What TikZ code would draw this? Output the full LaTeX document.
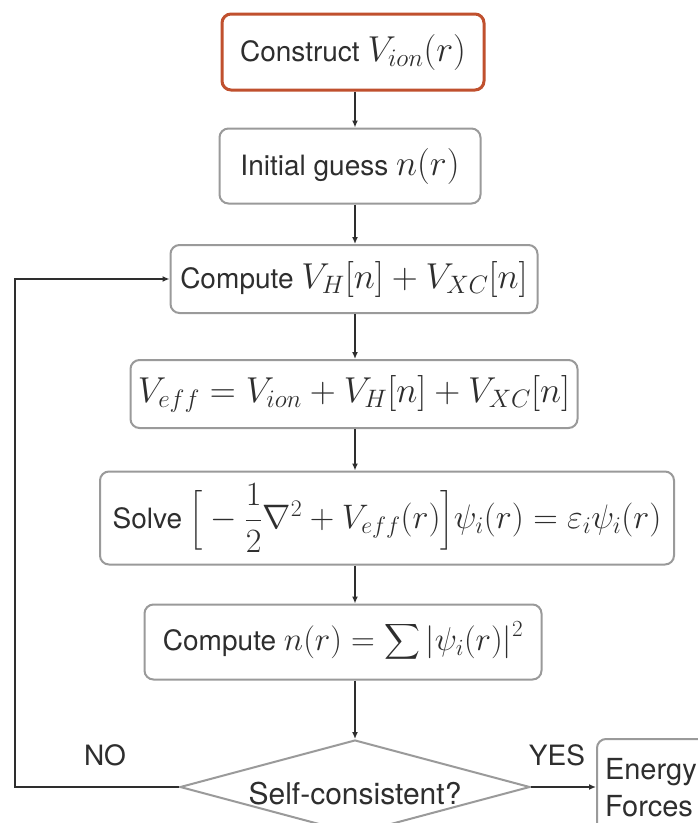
\RequirePackage{fix-cm}
\documentclass[tikz,border=0pt]{standalone}
\usepackage{amsmath}
\usepackage{fontspec}
\setmainfont{TeX Gyre Heros}
\usetikzlibrary{shapes.geometric,arrows.meta}
\definecolor{boxgray}{HTML}{9A9A9A}
\definecolor{ink}{HTML}{2E2E2E}
\definecolor{redb}{HTML}{C0502E}
\newcommand{\mth}[2][36]{{\fontsize{#1}{40}\selectfont$#2$}}
\begin{document}
\begin{tikzpicture}[x=1pt,y=-1pt,
  font=\fontsize{28}{32}\selectfont, text=ink,
  box/.style={draw=boxgray, line width=2pt, rounded corners=9pt, fill=white, inner sep=0pt, align=center},
  conn/.style={draw=ink, line width=2.2pt, -{Latex[length=7pt,width=6pt]}},
  lbl/.style={font=\fontsize{28}{32}\selectfont}]
\useasboundingbox[fill=white] (0,0) rectangle (698,823);
\coordinate (ax) at (355,0);
\coordinate (lx) at (15,0);

\node[box, draw=redb, line width=3pt, minimum width=262pt, minimum height=76pt] (b1) at (353,52) {Construct \mth{V_{ion}(r)}};
\node[box, minimum width=261pt, minimum height=75pt] (b2) at (350,166) {Initial guess \mth{n(r)}};
\node[box, minimum width=367pt, minimum height=68pt] (b3) at (354,279) {Compute \mth{V_H[n]+V_{XC}[n]}};
\node[box, minimum width=447pt, minimum height=68pt] (b4) at (354,394) {\mth{V_{eff}=V_{ion}+V_H[n]+V_{XC}[n]}};
\node[box, minimum width=574pt, minimum height=93pt] (b5) at (387,518) {Solve \mth[34]{\Big[-\dfrac{1}{2}\nabla^2+V_{eff}(r)\Big]\psi_i(r)=\varepsilon_i\psi_i(r)}};
\node[box, minimum width=397pt, minimum height=75pt] (b6) at (343,642) {Compute \mth[33]{n(r)=\displaystyle\sum|\psi_i(r)|^2}};
\node[diamond, aspect=3.7, draw=boxgray, line width=2pt, fill=white, minimum width=350pt, minimum height=94pt, inner sep=0pt, font=\fontsize{30}{34}\selectfont] (dia) at (355,787) {\raisebox{-17pt}[0pt][0pt]{Self-consistent?}};
\node[box, anchor=north west, text width=120pt, align=left, inner xsep=8pt, inner ysep=19pt, font=\fontsize{29}{37}\selectfont] (ef) at (596,738) {Energy\\Forces};

\node[lbl] (no) at (105,755) {NO};
\node[lbl] (yes) at (557,755) {YES};

\draw[conn] (b1.south -| ax) -- (b2.north -| ax);
\draw[conn] (b2.south -| ax) -- (b3.north -| ax);
\draw[conn] (b3.south -| ax) -- (b4.north -| ax);
\draw[conn] (b4.south -| ax) -- (b5.north -| ax);
\draw[conn] (b5.south -| ax) -- (b6.north -| ax);
\draw[conn] (b6.south -| ax) -- (dia.north);
\draw[conn] (dia.west) -- (dia.west -| lx) |- (b3.west);
\draw[conn] (dia.east) -- (dia.east -| ef.west);
\end{tikzpicture}
\end{document}
